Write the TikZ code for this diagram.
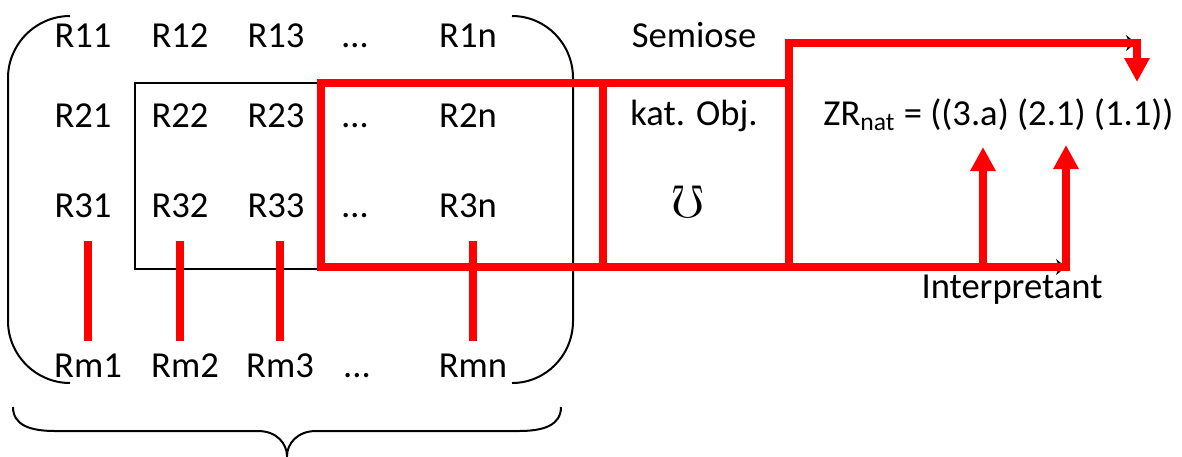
\documentclass[tikz,border=0pt]{standalone}
\usepackage{fontspec}
\setmainfont{Carlito}
\usepackage{amssymb}
\usetikzlibrary{arrows.meta}

\begin{document}
\begin{tikzpicture}[x=0.5pt,y=-0.5pt,
  entry/.style={anchor=base,inner sep=0pt,text height=12pt,text depth=0pt,
    font=\fontsize{18.3}{22}\selectfont},
  black line/.style={line width=1pt},
  red line/.style={draw=red,line width=4pt},
  red arrow/.style={red line,-{Triangle[width=12pt,length=12pt]}}]

  \useasboundingbox (0,0) rectangle (1182,456);

  % the relation matrix
  \node[entry] (r11) at (83,47) {R11};
  \node[entry] (r12) at (180,47) {R12};
  \node[entry] (r13) at (276,47) {R13};
  \node[entry] (d1) at (355,47) {…};
  \node[entry] (r1n) at (468,47) {R1n};

  \node[entry] (r21) at (83,127) {R21};
  \node[entry] (r22) at (180,127) {R22};
  \node[entry] (r23) at (276,127) {R23};
  \node[entry] (d2) at (355,127) {…};
  \node[entry] (r2n) at (468,127) {R2n};

  \node[entry] (r31) at (83,217) {R31};
  \node[entry] (r32) at (180,217) {R32};
  \node[entry] (r33) at (276,217) {R33};
  \node[entry] (d3) at (355,217) {…};
  \node[entry] (r3n) at (468,217) {R3n};

  \node[entry] (rm1) at (88,377) {Rm1};
  \node[entry] (rm2) at (185,377) {Rm2};
  \node[entry] (rm3) at (280,377) {Rm3};
  \node[entry] (dm) at (357,377) {...};
  \node[entry] (rmn) at (473,377) {Rmn};

  \node[entry] (semiose) at (694,47) {Semiose};
  \node[entry] (katobj) at (694,125) {kat. Obj.};
  \node[entry,font=\fontsize{23}{26}\selectfont] (mho) at (688,217) {$\mho$};
  \node[entry,anchor=base west] (zr) at (823,125) {ZR\textsubscript{nat} = ((3.a) (2.1) (1.1))};
  \node[entry] (interp) at (1012,298) {Interpretant};

  % brackets, inner box, brace
  \draw[black line] (70,16) .. controls (36,16) and (8,44) .. (8,78) -- (8,321)
    .. controls (8,355) and (36,383) .. (70,383);
  \draw[black line] (512,16) .. controls (546,16) and (573,44) .. (573,78) -- (573,321)
    .. controls (573,355) and (546,383) .. (512,383);
  \draw[black line] (321,83) -- (135,83) -- (135,269) -- (321,269);
  \draw[black line] (13,407) .. controls (13,425) and (30,431) .. (55,431) -- (258,431)
    .. controls (277,431) and (287,444) .. (287,456)
    .. controls (287,444) and (297,431) .. (316,431) -- (519,431)
    .. controls (544,431) and (561,425) .. (561,407);

  \draw[black line,-{Stealth[length=5pt,width=8pt]}] (787,83) -- (787,43) -- (1136,43);
  \draw[black line,-{Stealth[length=5pt,width=8pt]}] (789,267) -- (1066,267);

  % red frames and arrows
  \draw[red arrow] (789,83) -- (321,83) -- (321,267) -- (1066,267) -- (1066,145);
  \draw[red line] (603,83) -- (603,267);
  \draw[red line] (789,83) -- (789,267);
  \draw[red arrow] (789,83) -- (789,43) -- (1137,43) -- (1137,82);
  \draw[red arrow] (983,267) -- (983,147);

  \draw[red line,shorten <=12pt,shorten >=6pt] (r31.south -| rm1) -- (rm1.north);
  \draw[red line,shorten <=12pt,shorten >=6pt] (r32.south) -- (r32.south |- rm2.north);
  \draw[red line,shorten <=12pt,shorten >=6pt] (r33.south -| rm3) -- (rm3.north);
  \draw[red line,shorten <=12pt,shorten >=6pt] (r3n.south -| rmn) -- (rmn.north);
\end{tikzpicture}
\end{document}
